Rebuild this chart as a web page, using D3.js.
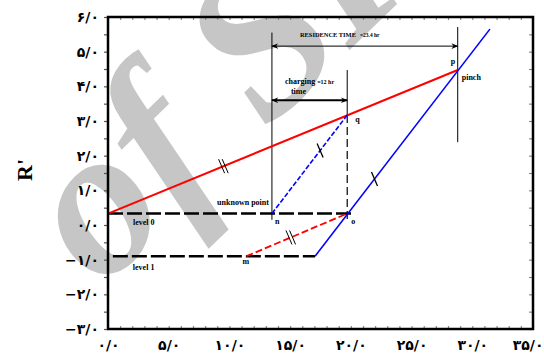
<!DOCTYPE html>
<html>
<head>
<meta charset="utf-8">
<script src="https://cdn.jsdelivr.net/npm/d3@7"></script>
<style>
  html, body { margin: 0; padding: 0; background: #fff; }
</style>
</head>
<body>
<div id="chart"></div>
<script>
// axis ticks (persian labels)
const xTickValues = [0, 5, 10, 15, 20, 25, 30, 35];
const xTickLabels = ["۰/۰", "۵/۰", "۱۰/۰", "۱۵/۰", "۲۰/۰", "۲۵/۰", "۳۰/۰", "۳۵/۰"];
const yTickValues = [-3, -2, -1, 0, 1, 2, 3, 4, 5, 6];
const yTickLabels = ["−۳/۰", "−۲/۰", "−۱/۰", "۰/۰", "۱/۰", "۲/۰", "۳/۰", "۴/۰", "۵/۰", "۶/۰"];
const yTitle = "R'";

// composite lines (time, R')
const hotX = [0, 28.8];
const hotY = [0.33, 4.47];
const coldX = [17.05, 31.45];
const coldY = [-0.9, 5.65];
const coldShiftX = [13.5, 19.7];
const coldShiftY = [0.33, 3.17];
const hotShiftX = [11.4, 19.7];
const hotShiftY = [-0.9, 0.33];

// levels
const levelNames = ["level 0", "level 1"];
const levelValues = [0.33, -0.9];
const levelFrom = [0, 0.4];
const levelTo = [20.3, 17.05];

// vertical guides
const guideX = [13.5, 19.7, 28.8];
const guideTop = [5.55, 4.47, 5.71];
const guideBottom = [0.15, 0.15, 2.39];

// time spans
const spanNames = ["RESIDENCE TIME", "charging"];
const spanValues = ["=23.4 hr", "=12 hr"];
const spanFrom = [13.5, 13.5];
const spanTo = [28.8, 19.7];
const spanLevel = [5.16, 3.6];

// named points
const pointNames = ["p", "q", "n", "o", "m"];
const pointX = [28.8, 19.7, 13.5, 19.7, 11.4];
const pointY = [4.47, 3.17, 0.33, 0.33, -0.9];

const width = 544, height = 358;
const margin = { top: 17, right: 11, bottom: 29, left: 108 };
const colors = { hot: "#ff0000", cold: "#0000ff", ink: "#000", tick: "#8a8a8a", mark: "#c6c6c6" };
const smallFont = "Liberation Serif";

const svg = d3.select("#chart").append("svg")
  .attr("width", width).attr("height", height)
  .style("display", "block");
svg.append("rect").attr("width", width).attr("height", height).attr("fill", "#fff");

const x = d3.scaleLinear().domain(d3.extent(xTickValues)).range([margin.left, width - margin.right]);
const y = d3.scaleLinear().domain(d3.extent(yTickValues)).range([height - margin.bottom, margin.top]);

// watermark
svg.append("text")
  .attr("transform", "translate(101,290) rotate(-44)")
  .attr("font-family", "Liberation Serif").attr("font-style", "italic").attr("font-weight", "bold")
  .attr("font-size", 212).attr("fill", colors.mark)
  .text("of SID");

// axes
const yAxis = d3.axisLeft(y)
  .tickValues(d3.range(-3, 6.001, 0.5))
  .tickSizeInner(4).tickSizeOuter(0).tickPadding(5)
  .tickFormat(d => Number.isInteger(d) ? yTickLabels[yTickValues.indexOf(d)] : "");
const xAxis = d3.axisBottom(x)
  .tickValues(d3.range(0, 35.001, 1))
  .tickSizeInner(-3).tickSizeOuter(0).tickPadding(11)
  .tickFormat(d => xTickValues.includes(d) ? xTickLabels[xTickValues.indexOf(d)] : "");
const topAxis = d3.axisTop(x).tickValues(d3.range(0, 35.001, 1)).tickSizeInner(-3).tickSizeOuter(0).tickFormat("");
const rightAxis = d3.axisRight(y).tickValues(d3.range(-3, 6.001, 0.5)).tickSizeInner(-4).tickSizeOuter(0).tickFormat("");

svg.append("g").attr("class", "yAxis").attr("transform", `translate(${margin.left},0)`).call(yAxis);
svg.append("g").attr("class", "xAxis").attr("transform", `translate(0,${height - margin.bottom})`).call(xAxis);
svg.append("g").attr("class", "topAxis").attr("transform", `translate(0,${margin.top})`).call(topAxis);
svg.append("g").attr("class", "rightAxis").attr("transform", `translate(${width - margin.right},0)`).call(rightAxis);

svg.selectAll(".domain").remove();
svg.selectAll(".tick line").attr("stroke", colors.tick).attr("stroke-width", 1.2);
svg.selectAll(".yAxis .tick line").attr("stroke", "#555");
svg.selectAll(".xAxis text, .yAxis text")
  .attr("font-family", "DejaVu Sans").attr("font-weight", "bold")
  .attr("font-size", 14).attr("fill", colors.ink);
// last x label would run past the edge: pull it in like the original
svg.selectAll(".xAxis .tick text").filter(d => d === 35).attr("text-anchor", "end").attr("dx", 10);

svg.append("text")
  .attr("transform", `translate(32,170) rotate(-90)`)
  .attr("text-anchor", "middle")
  .attr("font-family", "Liberation Serif").attr("font-weight", "bold").attr("font-size", 22)
  .text(yTitle);

// helpers
const line = d3.line().x(d => x(d[0])).y(d => y(d[1]));
function drawSeries(xs, ys, color, w, dash) {
  const p = svg.append("path").datum(xs.map((d, i) => [d, ys[i]]))
    .attr("d", line).attr("fill", "none")
    .attr("stroke", color).attr("stroke-width", w);
  if (dash) p.attr("stroke-dasharray", dash);
  return p;
}
function along(xs, ys, t) {
  return [x(xs[0] + (xs[1] - xs[0]) * t), y(ys[0] + (ys[1] - ys[0]) * t)];
}
function tickMark(xs, ys, t, double) {
  const [cx, cy] = along(xs, ys, t);
  const offs = double ? [-1.8, 1.8] : [0];
  offs.forEach(o => {
    svg.append("line")
      .attr("x1", cx + o - 3).attr("y1", cy - 7)
      .attr("x2", cx + o + 3).attr("y2", cy + 7)
      .attr("stroke", colors.ink).attr("stroke-width", double ? 1 : 1.3);
  });
}
function label(px, py, str, size, anchor) {
  return svg.append("text")
    .attr("x", px).attr("y", py)
    .attr("text-anchor", anchor || "start")
    .attr("font-family", smallFont).attr("font-weight", "bold").attr("font-size", size || 8)
    .text(str);
}

// level lines
levelNames.forEach((name, i) => {
  drawSeries([levelFrom[i], levelTo[i]], [levelValues[i], levelValues[i]], colors.ink, 2.4, "15,4");
  label(x(levelFrom[i]) + 25 - (i ? 5 : 0), y(levelValues[i]) + (i ? 14 : 11), name);
});

// vertical guides
guideX.forEach((gx, i) => {
  if (i === 1) {
    svg.append("line").attr("x1", x(gx)).attr("x2", x(gx))
      .attr("y1", y(guideTop[i])).attr("y2", y(pointY[1]))
      .attr("stroke", colors.ink).attr("stroke-width", 1);
    svg.append("line").attr("x1", x(gx)).attr("x2", x(gx))
      .attr("y1", y(pointY[1])).attr("y2", y(guideBottom[i]))
      .attr("stroke", colors.ink).attr("stroke-width", 1.2).attr("stroke-dasharray", "8,4");
  } else {
    svg.append("line").attr("x1", x(gx)).attr("x2", x(gx))
      .attr("y1", y(guideTop[i])).attr("y2", y(guideBottom[i]))
      .attr("stroke", colors.ink).attr("stroke-width", 1);
  }
});

// arrows
const defs = svg.append("defs");
defs.append("marker").attr("id", "arrow")
  .attr("viewBox", "0 0 10 10").attr("refX", 9).attr("refY", 5)
  .attr("markerWidth", 7).attr("markerHeight", 7)
  .attr("markerUnits", "userSpaceOnUse").attr("orient", "auto-start-reverse")
  .append("path").attr("d", "M0,1 L10,5 L0,9 L3,5 Z").attr("fill", colors.ink);

spanNames.forEach((name, i) => {
  svg.append("line")
    .attr("x1", x(spanFrom[i])).attr("x2", x(spanTo[i]))
    .attr("y1", y(spanLevel[i])).attr("y2", y(spanLevel[i]))
    .attr("stroke", colors.ink).attr("stroke-width", i ? 2 : 1)
    .attr("marker-start", "url(#arrow)").attr("marker-end", "url(#arrow)");
});
// span captions
label(x(spanFrom[0]) + 28, y(spanLevel[0]) - 9, spanNames[0], 6)
  .attr("textLength", 56).attr("lengthAdjust", "spacingAndGlyphs");
label(x(spanFrom[0]) + 88, y(spanLevel[0]) - 9, spanValues[0], 5.5);
const cap2 = label(x(spanFrom[1]) + 13, y(spanLevel[1]) - 16, null, 8);
cap2.append("tspan").text(spanNames[1] + " ");
cap2.append("tspan").attr("font-size", 6).text(spanValues[1]);
label(x(spanFrom[1]) + 19, y(spanLevel[1]) - 6, "time");

// composite lines
drawSeries(hotX, hotY, colors.hot, 2);
drawSeries(coldX, coldY, colors.cold, 1.6);
drawSeries(coldShiftX, coldShiftY, colors.cold, 1.6, "5,2");
drawSeries(hotShiftX, hotShiftY, colors.hot, 1.8, "7,3");

tickMark(hotX, hotY, 0.33, true);
tickMark(hotShiftX, hotShiftY, 0.44, true);
tickMark(coldShiftX, coldShiftY, 0.64, false);
tickMark(coldX, coldY, 0.34, false);

// point labels
const labelOffsets = [[-7, -6], [8, 7], [3, 10], [4, 10], [-4, 8]];
pointNames.forEach((name, i) => {
  label(x(pointX[i]) + labelOffsets[i][0], y(pointY[i]) + labelOffsets[i][1], name);
});
label(x(pointX[0]) + 4, y(pointY[0]) + 10, "pinch");
label(x(pointX[2]) - 3, y(pointY[2]) - 9, "unknown point", 8, "end");

// frame
svg.append("rect")
  .attr("x", x(0)).attr("y", y(6))
  .attr("width", x(35) - x(0)).attr("height", y(-3) - y(6))
  .attr("fill", "none").attr("stroke", colors.ink).attr("stroke-width", 2.5);
</script>
</body>
</html>
